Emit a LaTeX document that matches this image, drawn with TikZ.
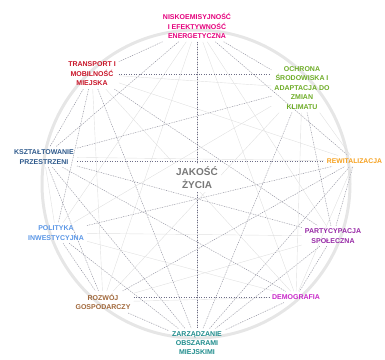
\documentclass[tikz,border=0pt]{standalone}
\usepackage{fontspec}
\setmainfont{Liberation Sans}
\usetikzlibrary{backgrounds}
\definecolor{cN}{RGB}{228,0,124}
\definecolor{cT}{RGB}{200,20,40}
\definecolor{cO}{RGB}{110,172,40}
\definecolor{cK}{RGB}{47,90,140}
\definecolor{cR}{RGB}{245,160,30}
\definecolor{cJ}{RGB}{120,120,120}
\definecolor{cP}{RGB}{90,150,230}
\definecolor{cS}{RGB}{150,40,165}
\definecolor{cG}{RGB}{160,103,58}
\definecolor{cD}{RGB}{200,40,200}
\definecolor{cZ}{RGB}{30,140,140}
\definecolor{ringcol}{RGB}{230,230,230}
\definecolor{dotcol}{RGB}{110,110,135}
\begin{document}
\begin{tikzpicture}[x=1pt,y=-1pt,
  lbl/.style={font=\bfseries\fontsize{7}{9.5}\selectfont, align=center, inner sep=3pt},
  faint/.style={draw=black!12, line width=0.4pt},
  dotl/.style={draw=dotcol, dotted, line width=0.5pt},
]
\useasboundingbox (0,0) rectangle (385,359);

\node[lbl, text=cN] (N) at (197,26) {NISKOEMISYJNOŚĆ\\I EFEKTYWNOŚĆ\\ENERGETYCZNA};
\node[lbl, text=cT] (T) at (92,74) {TRANSPORT I\\MOBILNOŚĆ\\MIEJSKA};
\node[lbl, text=cO] (O) at (302,88) {OCHRONA\\ŚRODOWISKA I\\ADAPTACJA DO\\ZMIAN\\KLIMATU};
\node[lbl, text=cK] (K) at (44,157) {KSZTAŁTOWANIE\\PRZESTRZENI};
\node[lbl, text=cR, anchor=east, inner sep=0pt, outer sep=3pt, font=\bfseries\fontsize{6.8}{9}\selectfont] (R) at (385,161) {REWITALIZACJA};
\node[font=\bfseries\fontsize{10}{13}\selectfont, align=center, text=cJ, fill=white, inner sep=3pt] (J) at (197,178) {JAKOŚĆ\\ŻYCIA};
\node[lbl, text=cP] (P) at (56,233) {POLITYKA\\INWESTYCYJNA};
\node[lbl, text=cS] (S) at (333,236) {PARTYCYPACJA\\SPOŁECZNA};
\node[lbl, text=cG] (G) at (103,302) {ROZWÓJ\\GOSPODARCZY};
\node[lbl, text=cD] (D) at (296,297) {DEMOGRAFIA};
\node[lbl, text=cZ, font=\bfseries\fontsize{7}{9}\selectfont] (Z) at (197,343) {ZARZĄDZANIE\\OBSZARAMI\\MIEJSKIMI};

\begin{scope}[on background layer]
  \draw[ringcol, line width=3pt] (196,184) circle [radius=154];
  \foreach \a [count=\i] in {N,T,O,K,R,P,S,G,D,Z} {
    \foreach \b [count=\j] in {N,T,O,K,R,P,S,G,D,Z} {
      \ifnum\i<\j \draw[faint] (\a) -- (\b); \fi
    }
  }
  \draw[dotl] (T.east) -- (T.east -| O.west);
  \draw[dotl] (K.east |- R.west) -- (R.west);
  \draw[dotl] (G.east |- D.west) -- (D.west);
  \draw[dotl] (N.south) -- (J.north);
  \draw[dotl] (J.south) -- (Z.north);
  \foreach \a/\b in {N/T, N/O, T/S, T/Z, T/K, T/P, O/K, O/Z, O/S, N/R, N/K,
                     P/R, G/R, Z/R, S/R, K/Z, K/D, K/S, K/G, P/Z, P/G,
                     S/Z, S/D, D/Z, G/Z} {
    \draw[dotl] (\a) -- (\b);
  }
\end{scope}
\end{tikzpicture}
\end{document}
